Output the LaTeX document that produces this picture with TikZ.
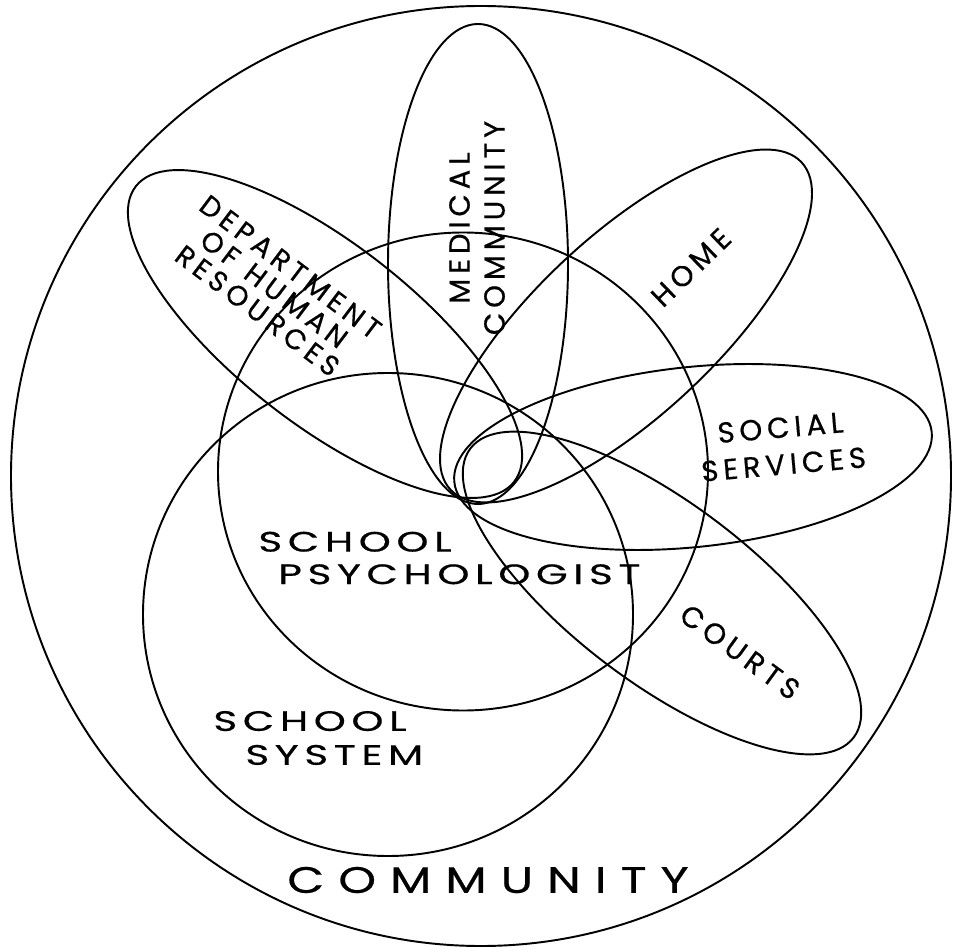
\documentclass[tikz,border=0pt]{standalone}
\usepackage{fontspec}
\setmainfont{Poppins}
\newfontfamily\tagface{Poppins}[LetterSpace=17, FakeBold=0.5]
\newfontfamily\wideface{Poppins}[LetterSpace=20, FakeStretch=1.45, FakeBold=0.5]
\newfontfamily\bigface{Poppins}[LetterSpace=38, FakeStretch=1.3, FakeBold=0.5]
\usepackage{tikz}
\usepackage{xcolor}
\definecolor{ink}{HTML}{000000}
\tikzset{
  ring/.style={draw=ink, line width=1.1pt},
  tag/.style={font=\tagface\fontsize{16.5}{20}\selectfont, text=ink, inner sep=0pt, align=center},
  widetag/.style={font=\wideface\fontsize{16}{18.5}\selectfont, text=ink, inner sep=0pt, align=left, anchor=west}
}

\begin{document}
\begin{tikzpicture}[x=0.02cm, y=0.02cm]
  \useasboundingbox (0,0) rectangle (955,947);

  % community and the two big circles
  \draw[ring] (481,471) circle [radius=470];
  \draw[ring] (463,475.5) ellipse [x radius=245, y radius=239];
  \draw[ring] (388,332.5) ellipse [x radius=245, y radius=241.5];

  % petals round the school psychologist
  \draw[ring, rotate around={142:(325,613)}] (325,613) ellipse [x radius=240, y radius=90];
  \draw[ring, rotate around={90:(478,683)}] (478,683) ellipse [x radius=240, y radius=90];
  \draw[ring, rotate around={43:(626,621)}] (626,621) ellipse [x radius=240, y radius=90];
  \draw[ring, rotate around={6:(693,490)}] (693,490) ellipse [x radius=240, y radius=90];
  \draw[ring, rotate around={-37:(662,354)}] (662,354) ellipse [x radius=240, y radius=90];

  \node[tag, rotate=-37, font=\tagface\fontsize{16}{15.6}\selectfont] (dhr) at (274,658) {DEPARTMENT\\OF\hspace{0.5em}HUMAN\\RESOURCES};
  \node[tag, rotate=90, font=\tagface\fontsize{16.5}{19.9}\selectfont] (medical) at (477,719) {MEDICAL\\COMMUNITY};
  \node[tag, rotate=44] (home) at (691,679.5) {HOME};
  \node[tag, rotate=5, font=\tagface\fontsize{16.5}{21}\selectfont] (social) at (782,501) {SOCIAL\\SERVICES};
  \node[tag, rotate=-36] (courts) at (740,295) {COURTS};

  \node[widetag] (psych) at (258,389) {SCHOOL\\\hspace*{0.4cm}PSYCHOLOGIST};
  \node[widetag, font=\wideface\fontsize{16}{19.3}\selectfont] (system) at (213,209) {SCHOOL\\\hspace*{0.64cm}SYSTEM};
  \node[inner sep=0pt, font=\bigface\fontsize{21}{22}\selectfont] (community) at (488,67) {COMMUNITY};
\end{tikzpicture}
\end{document}
